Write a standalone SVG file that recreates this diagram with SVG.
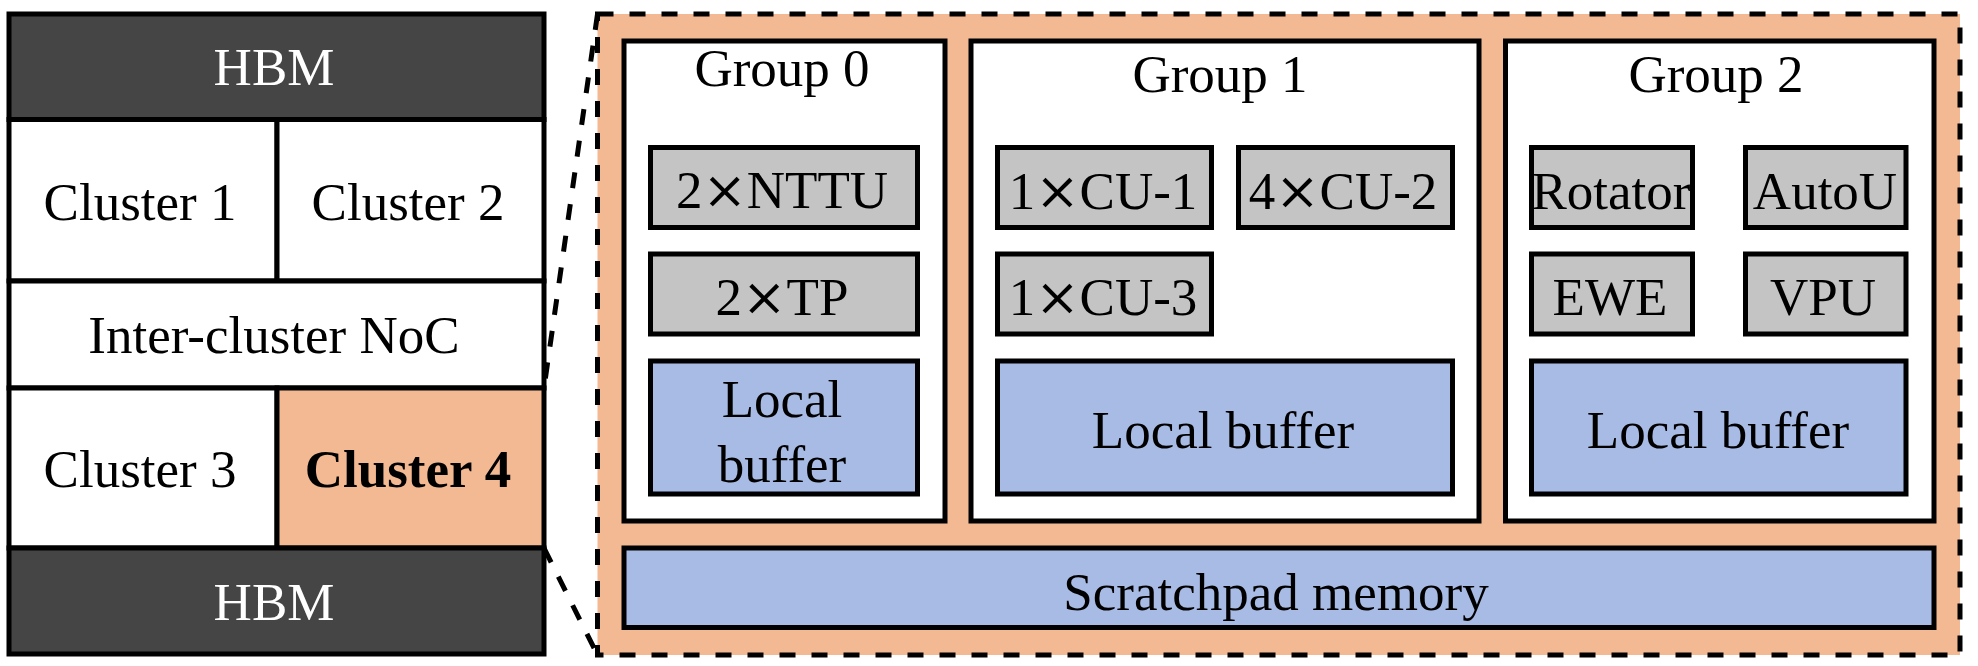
<svg xmlns="http://www.w3.org/2000/svg" width="1978" height="666" viewBox="0 0 1978 666">
<style>
text{font-family:"Liberation Serif","Times New Roman",serif;font-size:53px;fill:#000;text-anchor:middle}
.x{font-family:"DejaVu Serif",serif}
.w{fill:#fff}
.b{font-weight:bold}
.hbm{fill:#454545;stroke:#000;stroke-width:5}
.cell{fill:#fff;stroke:#000;stroke-width:5}
.peach{fill:#F2B993;stroke:#000;stroke-width:5}
.grp{fill:#fff;stroke:#000;stroke-width:5}
.fu{fill:#C4C4C4;stroke:#000;stroke-width:5}
.buf{fill:#A8BBE4;stroke:#000;stroke-width:5}
.dash{fill:none;stroke:#000;stroke-width:5;stroke-dasharray:16 16}
</style>
<rect width="1978" height="666" fill="#fff"/>
<g id="cluster4-detail">
<rect x="597.5" y="14" width="1362.5" height="641" fill="#F2B993"/>
<rect x="597.5" y="14" width="1362.5" height="641" class="dash"/>
</g>
<g id="left-chip">
<g id="hbm-top"><rect x="9" y="14" width="535" height="105.5" class="hbm"/><text x="274" y="85" class="w">HBM</text></g>
<g id="cluster1"><rect x="9" y="119.5" width="268" height="161.5" class="cell"/><text x="140" y="220">Cluster 1</text></g>
<g id="cluster2"><rect x="277" y="119.5" width="267" height="161.5" class="cell"/><text x="408" y="220">Cluster 2</text></g>
<g id="noc"><rect x="9" y="281" width="535" height="107" class="cell"/><text x="274" y="353">Inter-cluster NoC</text></g>
<g id="cluster3"><rect x="9" y="388" width="268" height="160" class="cell"/><text x="140" y="487">Cluster 3</text></g>
<g id="cluster4"><rect x="277" y="388" width="267" height="160" class="peach"/><text x="408" y="487" class="b">Cluster 4</text></g>
<g id="hbm-bottom"><rect x="9" y="548" width="535" height="106" class="hbm"/><text x="274" y="620" class="w">HBM</text></g>
</g>
<g id="group0">
<rect x="624" y="41" width="321" height="480" class="grp"/>
<text x="782" y="86">Group 0</text>
<g id="nttu"><rect x="650.5" y="147.5" width="267" height="80" class="fu"/><text x="782" y="208">2<tspan class="x">×</tspan>NTTU</text></g>
<g id="tp"><rect x="650.5" y="254" width="267" height="80" class="fu"/><text x="782" y="315">2<tspan class="x">×</tspan>TP</text></g>
<g id="lb0"><rect x="650.5" y="361" width="267" height="133" class="buf"/><text x="782" y="417">Local</text><text x="782" y="482">buffer</text></g>
</g>
<g id="group1">
<rect x="971" y="41" width="508" height="480" class="grp"/>
<text x="1220" y="92">Group 1</text>
<g id="cu1"><rect x="997.5" y="147.5" width="214" height="80" class="fu"/><text x="1103" y="209">1<tspan class="x">×</tspan>CU-1</text></g>
<g id="cu2"><rect x="1238.5" y="147.5" width="214" height="80" class="fu"/><text x="1343" y="209">4<tspan class="x">×</tspan>CU-2</text></g>
<g id="cu3"><rect x="997.5" y="254" width="214" height="80" class="fu"/><text x="1103" y="315">1<tspan class="x">×</tspan>CU-3</text></g>
<g id="lb1"><rect x="997.5" y="361" width="455" height="133" class="buf"/><text x="1223" y="448">Local buffer</text></g>
</g>
<g id="group2">
<rect x="1505.5" y="41" width="428.5" height="480" class="grp"/>
<text x="1716" y="92">Group 2</text>
<g id="rotator"><rect x="1531.5" y="147.5" width="161" height="80" class="fu"/><text x="1611" y="209">Rotator</text></g>
<g id="autou"><rect x="1745.5" y="147.5" width="160.5" height="80" class="fu"/><text x="1825" y="209">AutoU</text></g>
<g id="ewe"><rect x="1531.5" y="254" width="161" height="80" class="fu"/><text x="1610" y="315">EWE</text></g>
<g id="vpu"><rect x="1745.5" y="254" width="160.5" height="80" class="fu"/><text x="1823" y="315">VPU</text></g>
<g id="lb2"><rect x="1531.5" y="361" width="374.5" height="133" class="buf"/><text x="1718" y="448">Local buffer</text></g>
</g>
<g id="scratchpad">
<rect x="624" y="548" width="1310" height="79.5" class="buf"/>
<text x="1276" y="610">Scratchpad memory</text>
</g>
<g id="connectors">
<line x1="597.5" y1="14" x2="544" y2="388" class="dash"/>
<line x1="544" y1="548" x2="597.5" y2="655" class="dash"/>
</g>
</svg>
